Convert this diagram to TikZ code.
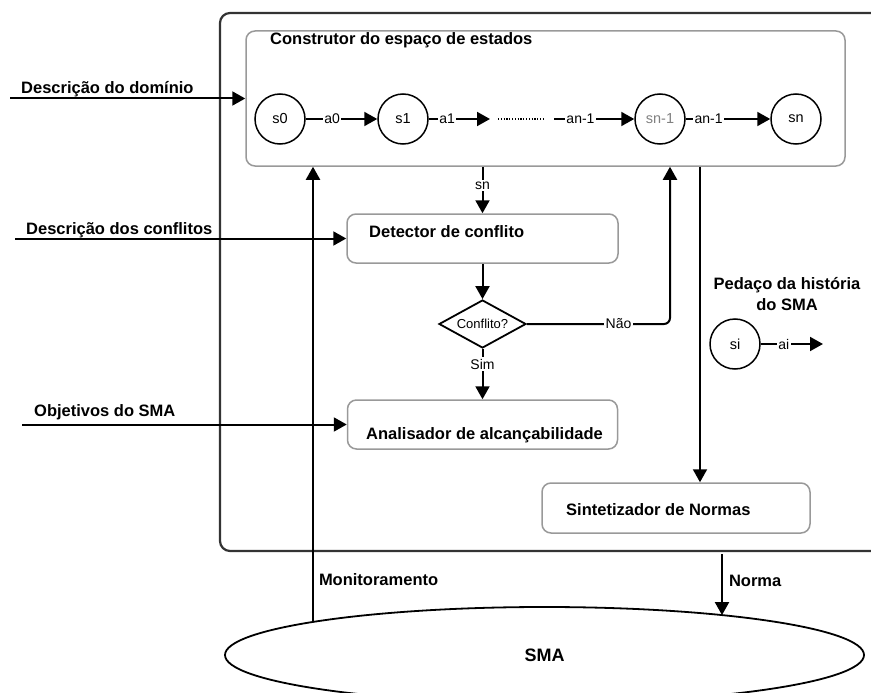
\documentclass[tikz,border=0pt]{standalone}
\usepackage{fontspec}
\setmainfont{Liberation Sans}
\usetikzlibrary{arrows.meta,shapes.geometric}

\begin{document}
\begin{tikzpicture}[x=1pt, y=-1pt,
		seta/.style={line width=2pt, -{Triangle[length=13pt, width=14pt]}},
		caixa/.style={draw=black!40, line width=1.5pt, rounded corners=9pt, inner sep=0pt},
		estado/.style={draw, circle, line width=1.5pt, minimum size=50pt, inner sep=0pt, font=\fontsize{14.5}{16}\selectfont},
		titulo/.style={font=\bfseries\fontsize{16.5}{21}\selectfont, inner sep=0pt},
		rotulo/.style={font=\fontsize{14}{16}\selectfont, fill=white, inner sep=1.5pt}]
	\useasboundingbox (0,0) rectangle (871,693);
	\clip (0,0) rectangle (871,693);

	\node[draw=black!80, line width=2.2pt, rounded corners=10pt, minimum width=680pt, minimum height=538pt] (sistema) at (560,282) {};
	\node[caixa, minimum width=599pt, minimum height=135pt] (construtor) at (545.5,98.5) {};
	\node[caixa, minimum width=271pt, minimum height=49pt] (detector) at (482.5,238.5) {};
	\node[caixa, minimum width=270pt, minimum height=49pt] (analisador) at (482.5,424.5) {};
	\node[caixa, minimum width=268pt, minimum height=50pt] (sintetizador) at (676,508) {};
	\node[draw, diamond, line width=1.8pt, minimum width=87pt, minimum height=48pt, inner sep=0pt, label={[rotulo, fill=none, font=\fontsize{13}{15}\selectfont]center:Conflito?}] (conflito) at (482.5,324) {};
	\node[draw, ellipse, line width=1.8pt, minimum width=639pt, minimum height=96pt, font=\bfseries\fontsize{18}{20}\selectfont] (sma) at (544.5,655) {SMA};

	\node[titulo, anchor=base west] (tconstrutor) at (270,45) {Construtor do espaço de estados};
	\node[titulo, anchor=base west] (tdetector) at (369,237) {Detector de conflito};
	\node[titulo, anchor=base west] (tanalisador) at (366,439) {Analisador de alcançabilidade};
	\node[titulo, anchor=base west] (tsintetizador) at (566,515) {Sintetizador de Normas};
	\node[titulo, align=center] (tpedaco) at (787,294) {Pedaço da história\\do SMA};

	\node[estado] (s0) at (280,119) {s0};
	\node[estado] (s1) at (403,119) {s1};
	\node[estado, text=gray] (sn1) at (660,119) {sn-1};
	\node[estado] (sn) at (796,119) {sn};
	\node[estado] (si) at (735,344) {si};
	\coordinate (fim1) at (490,119);
	\coordinate (pontosA) at (498,119);
	\coordinate (pontosB) at (544,119);
	\coordinate (inicio) at (554,119);
	\coordinate (fimi) at (823,344);

	\draw[seta] (s0) -- (s1) node[rotulo, pos=0.37] {a0};
	\draw[seta] (s1) -- (fim1) node[rotulo, pos=0.3] {a1};
	\draw[line width=1.2pt, dash pattern=on 1.2pt off 1.6pt] (pontosA) -- (pontosB);
	\draw[seta] (inicio) -- (sn1) node[rotulo, pos=0.33] {an-1};
	\draw[seta] (sn1) -- (sn) node[rotulo, pos=0.27] {an-1};
	\draw[seta] (si) -- (fimi) node[rotulo, pos=0.37] {ai};

	\draw[seta] (construtor.south -| detector.north) -- (detector.north) node[rotulo, pos=0.4] {sn};
	\draw[seta] (detector.south) -- (conflito.north);
	\draw[seta] (conflito.south) -- (analisador.north) node[rotulo, pos=0.3] {Sim};
	\draw[seta, rounded corners=6pt] (conflito.east) -| ([xshift=124.5pt]construtor.south) node[rotulo, pos=0.32] {Não};
	\coordinate (xnorma) at (700,0);
	\draw[seta] (construtor.south -| xnorma) -- (sintetizador.north -| xnorma);

	\coordinate (entrada1) at (10,98.5);
	\coordinate (entrada2) at (15,238.5);
	\coordinate (entrada3) at (22,424.5);
	\draw[seta] (entrada1) -- (construtor.west);
	\draw[seta] (entrada2) -- (detector.west);
	\draw[seta] (entrada3) -- (analisador.west);
	\node[titulo, anchor=base west] (tdominio) at (21,93) {Descrição do domínio};
	\node[titulo, anchor=base west] (tconflitos) at (26,234) {Descrição dos conflitos};
	\node[titulo, anchor=base west] (tobjetivos) at (34,416) {Objetivos do SMA};

	\coordinate (monit) at ([shift={(-231.5,-33.1)}]sma.center);
	\coordinate (norma) at ([shift={(177.5,-39.9)}]sma.center);
	\draw[seta] (monit) -- (monit |- construtor.south) node[titulo, pos=0.092, anchor=west, xshift=5pt] {Monitoramento};
	\draw[seta, shorten <=2pt] (norma |- sistema.south) -- (norma) node[titulo, pos=0.45, anchor=west, xshift=6pt] {Norma};
\end{tikzpicture}
\end{document}
